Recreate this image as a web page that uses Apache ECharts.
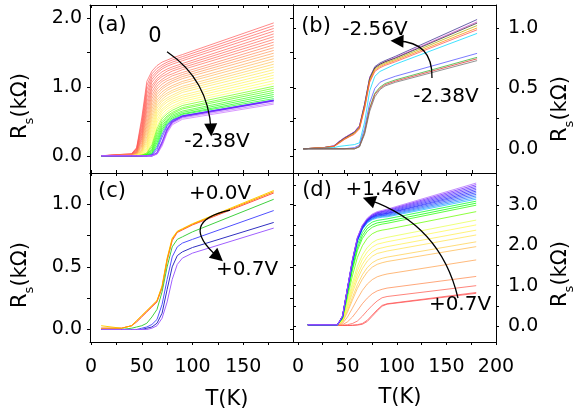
<!DOCTYPE html>
<html>
<head>
<meta charset="utf-8">
<script src="https://cdn.jsdelivr.net/npm/echarts@6/dist/echarts.min.js"></script>
<style>
  html, body { margin: 0; padding: 0; background: #fff; }
  #chart { width: 577px; height: 416px; }
</style>
</head>
<body>
<div id="chart"></div>
<script>
  var FONT = 'DejaVu Sans'

  // ---- (a) gate 0 .. -2.38V ----
  var tempA = [10, 40, 45, 50, 55, 60, 65, 70, 75, 80, 90, 180]
  var curvesA = [
    [0, .03, .12, .55, 1.08, 1.23, 1.31, 1.36, 1.39, 1.42, 1.47, 1.93],
    [0, .03, .11, .50, 1.02, 1.19, 1.27, 1.32, 1.36, 1.39, 1.44, 1.89],
    [0, .02, .10, .45, .96, 1.15, 1.23, 1.29, 1.33, 1.36, 1.41, 1.85],
    [0, .02, .09, .40, .90, 1.11, 1.20, 1.26, 1.30, 1.33, 1.38, 1.81],
    [0, .02, .08, .36, .84, 1.07, 1.16, 1.22, 1.26, 1.29, 1.34, 1.77],
    [0, .02, .07, .32, .78, 1.02, 1.12, 1.18, 1.23, 1.26, 1.31, 1.73],
    [0, .01, .06, .28, .72, .98, 1.09, 1.15, 1.19, 1.23, 1.28, 1.69],
    [0, .01, .05, .25, .66, .93, 1.05, 1.11, 1.16, 1.19, 1.25, 1.65],
    [0, .01, .05, .22, .60, .88, 1.01, 1.08, 1.12, 1.16, 1.21, 1.61],
    [0, .01, .04, .19, .54, .83, .97, 1.04, 1.09, 1.12, 1.18, 1.57],
    [0, .01, .04, .16, .48, .78, .93, 1.00, 1.05, 1.09, 1.15, 1.53],
    [0, .01, .03, .14, .43, .73, .89, .97, 1.02, 1.06, 1.12, 1.49],
    [0, 0, .03, .12, .38, .68, .85, .93, .98, 1.02, 1.08, 1.45],
    [0, 0, .02, .10, .33, .63, .81, .89, .95, .99, 1.05, 1.41],
    [0, 0, .02, .08, .28, .58, .77, .86, .91, .95, 1.01, 1.37],
    [0, 0, .02, .07, .24, .53, .73, .82, .88, .92, .98, 1.33],
    [0, 0, .01, .06, .20, .48, .69, .79, .84, .88, .95, 1.29],
    [0, 0, .01, .05, .17, .43, .65, .75, .81, .85, .92, 1.25],
    [0, 0, .01, .04, .14, .38, .61, .72, .78, .82, .88, 1.21],
    [0, 0, .01, .03, .11, .33, .57, .68, .74, .79, .85, 1.17],
    [0, 0, 0, .02, .09, .28, .52, .65, .71, .76, .82, 1.13],
    [0, 0, 0, .02, .07, .24, .48, .61, .68, .72, .79, 1.09],
    [0, 0, 0, .01, .05, .20, .43, .57, .64, .69, .76, 1.05],
    [0, 0, 0, .01, .04, .16, .39, .54, .61, .66, .73, 1.01],
    [0, 0, 0, .01, .03, .13, .35, .50, .58, .63, .70, .98],
    [0, 0, 0, 0, .02, .10, .31, .47, .56, .61, .68, .95],
    [0, 0, 0, 0, .02, .08, .27, .44, .53, .59, .65, .92],
    [0, 0, 0, 0, .01, .06, .23, .41, .51, .57, .63, .89],
    [0, 0, 0, 0, .01, .04, .19, .38, .49, .55, .61, .86],
    [0, 0, 0, 0, 0, .03, .15, .35, .47, .53, .60, .83],
    [0, 0, 0, 0, 0, .02, .12, .31, .45, .52, .58, .81],
    [0, 0, 0, 0, 0, .01, .09, .27, .43, .51, .58, .80],
    [0, 0, 0, 0, 0, 0, .04, .19, .38, .49, .57, .80],
    [0, 0, 0, 0, 0, 0, .03, .16, .35, .47, .55, .77],
    [0, 0, 0, 0, 0, 0, .02, .14, .33, .45, .53, .75]
  ]
  var huesA = [0, 0, 2, 3, 4, 5, 6, 8, 14, 18, 22, 26, 30, 34, 38, 42,
    50, 52, 54, 56, 58, 60, 62, 95, 100, 105, 110, 115, 120, 125, 230, 250, 262, 272, 278]

  // ---- (b) gate -2.38 .. -2.56V ----
  var tempB = [10, 30, 40, 45, 50, 55, 60, 65, 70, 75, 80, 85, 90, 100, 180]
  var curvesB = [
    [0, .01, .025, .06, .09, .115, .14, .19, .37, .59, .68, .71, .73, .765, 1.07],
    [0, .01, .025, .06, .09, .115, .14, .19, .37, .59, .67, .70, .72, .755, 1.05],
    [0, .01, .02, .055, .085, .11, .135, .18, .36, .58, .67, .70, .72, .75, 1.04],
    [0, .01, .02, .05, .08, .105, .13, .175, .35, .57, .66, .69, .71, .74, 1.02],
    [0, .01, .02, .05, .08, .10, .125, .17, .34, .56, .65, .68, .70, .73, 1.00],
    [0, .01, .02, .045, .075, .10, .12, .165, .33, .55, .64, .67, .69, .72, .985],
    [0, .005, .01, .02, .025, .03, .035, .05, .22, .48, .60, .64, .66, .70, .955],
    [0, 0, 0, 0, 0, .005, .01, .03, .17, .38, .50, .55, .57, .60, .79],
    [0, 0, 0, 0, 0, 0, 0, .02, .14, .34, .46, .51, .54, .57, .757],
    [0, 0, 0, 0, 0, 0, 0, .02, .13, .33, .45, .50, .53, .56, .745],
    [0, 0, 0, 0, 0, 0, 0, .015, .12, .31, .43, .49, .52, .55, .73]
  ]
  var colorsB = ['#3a2f8f', '#d040d0', '#303030', '#b0b000', '#ff8c00', '#ff5050',
    '#00d8ff', '#5050ff', '#30b030', '#e03030', '#707070']

  // ---- (c) gate +0.0 .. +0.7V ----
  var tempC = [10, 30, 40, 45, 50, 55, 60, 65, 70, 75, 80, 85, 90, 100, 180]
  var curvesC = [
    [.01, .01, .03, .06, .10, .14, .18, .22, .33, .55, .71, .775, .795, .835, 1.09],
    [.03, .01, .03, .07, .11, .15, .19, .23, .35, .57, .73, .785, .805, .845, 1.11],
    [.01, .01, .03, .07, .11, .15, .19, .23, .34, .56, .72, .78, .80, .84, 1.10],
    [0, 0, .01, .02, .03, .05, .10, .16, .30, .50, .66, .72, .74, .78, 1.04],
    [0, 0, 0, 0, .01, .02, .04, .08, .20, .40, .58, .66, .69, .72, .95],
    [0, 0, 0, 0, 0, .01, .02, .05, .13, .32, .50, .59, .62, .655, .855],
    [0, 0, 0, 0, 0, 0, .01, .03, .09, .22, .40, .52, .57, .61, .81]
  ]
  var colorsC = ['#ff5050', '#ffd000', '#ff9900', '#40d040', '#5050ff', '#3030c0', '#a060ff']

  // ---- (d) gate +0.7 .. +1.46V ----
  var tempD = [10, 40, 45, 50, 55, 60, 65, 70, 75, 80, 85, 90, 180]
  var curvesD = [
    [.01, .01, .01, .01, .01, .02, .04, .11, .24, .37, .49, .54, .81],
    [.01, .01, .01, .01, .02, .03, .06, .14, .27, .40, .51, .55, .83],
    [.02, .02, .02, .03, .06, .12, .24, .38, .51, .62, .70, .73, 1.00],
    [.02, .02, .03, .10, .22, .38, .55, .69, .80, .87, .91, .94, 1.23],
    [.02, .02, .06, .22, .44, .67, .88, 1.04, 1.15, 1.22, 1.26, 1.29, 1.64],
    [.03, .03, .09, .34, .64, .93, 1.16, 1.34, 1.46, 1.53, 1.57, 1.60, 1.97],
    [.03, .03, .10, .38, .71, 1.02, 1.27, 1.45, 1.57, 1.64, 1.68, 1.71, 2.09],
    [.03, .03, .12, .45, .82, 1.16, 1.42, 1.61, 1.73, 1.80, 1.83, 1.86, 2.26],
    [.03, .03, .13, .50, .90, 1.26, 1.53, 1.72, 1.84, 1.91, 1.94, 1.97, 2.38],
    [.03, .03, .14, .55, .98, 1.37, 1.65, 1.84, 1.96, 2.03, 2.06, 2.09, 2.51],
    [.03, .03, .15, .60, 1.07, 1.48, 1.76, 1.95, 2.07, 2.14, 2.17, 2.20, 2.63],
    [.03, .03, .17, .70, 1.24, 1.70, 1.99, 2.18, 2.29, 2.35, 2.38, 2.40, 2.84],
    [.03, .03, .19, .78, 1.38, 1.87, 2.17, 2.35, 2.45, 2.50, 2.53, 2.55, 3.00],
    [.03, .03, .20, .82, 1.44, 1.94, 2.24, 2.42, 2.51, 2.56, 2.58, 2.60, 3.05],
    [.03, .03, .21, .86, 1.50, 2.02, 2.32, 2.49, 2.58, 2.62, 2.64, 2.66, 3.10],
    [.03, .03, .22, .90, 1.56, 2.10, 2.40, 2.56, 2.64, 2.68, 2.70, 2.71, 3.15],
    [.03, .03, .22, .90, 1.57, 2.11, 2.41, 2.57, 2.66, 2.70, 2.72, 2.73, 3.19],
    [.03, .03, .22, .91, 1.58, 2.12, 2.42, 2.59, 2.67, 2.72, 2.74, 2.75, 3.23],
    [.03, .03, .23, .91, 1.59, 2.13, 2.43, 2.60, 2.69, 2.73, 2.75, 2.77, 3.27],
    [.03, .03, .23, .92, 1.60, 2.14, 2.44, 2.61, 2.70, 2.75, 2.77, 2.79, 3.31],
    [.03, .03, .23, .92, 1.61, 2.15, 2.45, 2.62, 2.71, 2.76, 2.78, 2.80, 3.35],
    [.03, .03, .24, .93, 1.62, 2.16, 2.46, 2.63, 2.72, 2.78, 2.80, 2.82, 3.39],
    [.03, .03, .24, .93, 1.62, 2.17, 2.47, 2.64, 2.73, 2.79, 2.82, 2.84, 3.43],
    [.03, .03, .24, .94, 1.63, 2.18, 2.48, 2.65, 2.75, 2.81, 2.84, 2.86, 3.47],
    [.03, .03, .25, .94, 1.64, 2.19, 2.49, 2.66, 2.76, 2.82, 2.85, 2.88, 3.51],
    [.03, .03, .25, .95, 1.65, 2.20, 2.50, 2.68, 2.78, 2.84, 2.87, 2.90, 3.55]
  ]
  var huesD = [0, 0, 4, 20, 28, 36, 44, 50, 54, 58, 68, 95, 110, 120, 128,
    200, 210, 220, 228, 235, 240, 245, 250, 255, 262, 268]

  // axis ranges and ticks
  var xRanges = [[-1, 199], [0, 198.5], [-1, 199], [-5, 200]]
  var yRanges = [[-0.25, 2.19], [-0.2, 1.19], [-0.1, 1.25], [-0.4, 3.8]]
  var xTicks = [0, 25, 50, 75, 100, 125, 150, 175, 200]
  var xLabels = [null, null, [0, 50, 100, 150], [0, 50, 100, 150, 200]]
  var yTicks = [[0, 0.5, 1, 1.5, 2], [0, 0.25, 0.5, 0.75, 1], [0, 0.25, 0.5, 0.75, 1],
    [0, 0.5, 1, 1.5, 2, 2.5, 3, 3.5]]
  var yLabels = [[0, 1, 2], [0, 0.5, 1], [0, 0.5, 1], [0, 1, 2, 3]]
  var ySide = ['left', 'right', 'left', 'right']

  // arrows, in data units of each panel: [panel, from, to, curveness]
  var arrows = [
    [0, [74.9, 1.51], [118.2, 0.375], 0.25],
    [1, [135.9, 0.586], [101.7, 0.892], -0.5],
    [2, [136.9, 0.954], [125.1, 0.579], -1.0],
    [3, [161.6, 0.693], [71.75, 3.13], -0.275]
  ]

  var grids = [
    {left: 90, top: 5, width: 203, height: 168},
    {left: 293, top: 5, width: 203, height: 168},
    {left: 90, top: 173, width: 203, height: 169},
    {left: 293, top: 173, width: 203, height: 169}
  ]

  var chart = echarts.init(document.getElementById('chart'))

  // lighter tints for the warm colours, like the thin lines of the original
  function hsl(h) {
    var l = h >= 265 ? 70 : (h < 70 ? 66 : (h < 140 ? 50 : 56))
    return 'hsl(' + h + ',100%,' + l + '%)'
  }

  var xAxis = [], yAxis = []
  var black = {color: '#000', width: 1}
  grids.forEach(function (g, i) {
    var xr = xRanges[i], yr = yRanges[i]
    ;['bottom', 'top'].forEach(function (pos) {
      var lab = pos === 'bottom' && xLabels[i]
      xAxis.push({
        type: 'value', gridIndex: i, position: pos, min: xr[0], max: xr[1],
        axisLine: {show: true, onZero: false, lineStyle: black},
        axisTick: {
          show: true, inside: !lab, length: 3, lineStyle: black,
          customValues: xTicks.filter(function (v) { return v >= xr[0] && v <= xr[1] })
        },
        axisLabel: lab ? {
          show: true, customValues: lab, margin: 16, fontSize: 19,
          fontFamily: FONT, color: '#000'
        } : {show: false},
        splitLine: {show: false}
      })
    })
    ;['left', 'right'].forEach(function (pos) {
      var lab = pos === ySide[i]
      yAxis.push({
        type: 'value', gridIndex: i, position: pos, min: yr[0], max: yr[1],
        axisLine: {show: true, onZero: false, lineStyle: black},
        axisTick: {show: true, inside: !lab, length: 3, lineStyle: black, customValues: yTicks[i]},
        axisLabel: lab ? {
          show: true, customValues: yLabels[i], margin: pos === 'left' ? 8 : 12,
          fontSize: 19, fontFamily: FONT, color: '#000',
          formatter: function (v) { return v.toFixed(1) }
        } : {show: false},
        splitLine: {show: false}
      })
    })
  })

  var series = []
  function addCurves(panel, temps, curves, colors, width, opacity) {
    curves.forEach(function (c, k) {
      series.push({
        type: 'line', xAxisIndex: panel * 2, yAxisIndex: panel * 2,
        data: temps.map(function (t, j) { return [t, c[j]] }),
        symbol: 'none', silent: true, animation: false,
        lineStyle: {width: width[k] || width[0], color: colors[k], opacity: opacity}
      })
    })
  }
  var widthA = curvesA.map(function (c, k) { return k === 32 ? 1.8 : 0.8 })
  addCurves(0, tempA, curvesA, huesA.map(hsl), widthA, 0.85)
  addCurves(1, tempB, curvesB, colorsB, [0.8], 0.95)
  addCurves(2, tempC, curvesC, colorsC, [1], 1)
  addCurves(3, tempD, curvesD, huesD.map(hsl), [0.9], 0.85)

  arrows.forEach(function (a) {
    series.push({
      type: 'lines', coordinateSystem: 'cartesian2d',
      xAxisIndex: a[0] * 2, yAxisIndex: a[0] * 2,
      symbol: ['none', 'triangle'], symbolSize: [9, 13], silent: true, z: 10,
      lineStyle: {color: '#000', width: 1.3, opacity: 1, curveness: a[3]},
      data: [{coords: [a[1], a[2]]}]
    })
  })

  function txt(x, y, s, size) {
    return {
      type: 'text', x: x, y: y, silent: true, z: 20,
      style: {text: s, fontSize: size, fontFamily: FONT, fill: '#000', align: 'center', verticalAlign: 'middle'}
    }
  }
  function rsLabel(x, y) {
    return {
      type: 'text', x: x, y: y, rotation: Math.PI / 2, silent: true,
      style: {
        text: '{r|R}{s|s}{r|(kΩ)}', align: 'center', verticalAlign: 'middle', fill: '#000',
        rich: {
          r: {fontSize: 21, fontFamily: FONT, lineHeight: 26, verticalAlign: 'top', fill: '#000'},
          s: {fontSize: 13, fontFamily: FONT, lineHeight: 13, verticalAlign: 'bottom', fill: '#000'}
        }
      }
    }
  }

  var graphic = [
    txt(112, 26, '(a)', 21), txt(316, 27, '(b)', 21), txt(112, 192, '(c)', 21), txt(317, 191, '(d)', 21),
    txt(155, 37, '0', 21), txt(217, 142, '-2.38V', 20),
    txt(375, 30, '-2.56V', 20), txt(446, 97, '-2.38V', 20),
    txt(220, 194, '+0.0V', 20), txt(247, 270, '+0.7V', 20),
    txt(383, 190, '+1.46V', 20), txt(460, 305, '+0.7V', 20),
    txt(227, 400, 'T(K)', 21), txt(400, 398, 'T(K)', 21),
    rsLabel(23, 106), rsLabel(23, 275), rsLabel(563, 109), rsLabel(563, 274)
  ]

  chart.setOption({
    animation: false,
    grid: grids,
    xAxis: xAxis,
    yAxis: yAxis,
    series: series,
    graphic: graphic
  })
</script>
</body>
</html>
